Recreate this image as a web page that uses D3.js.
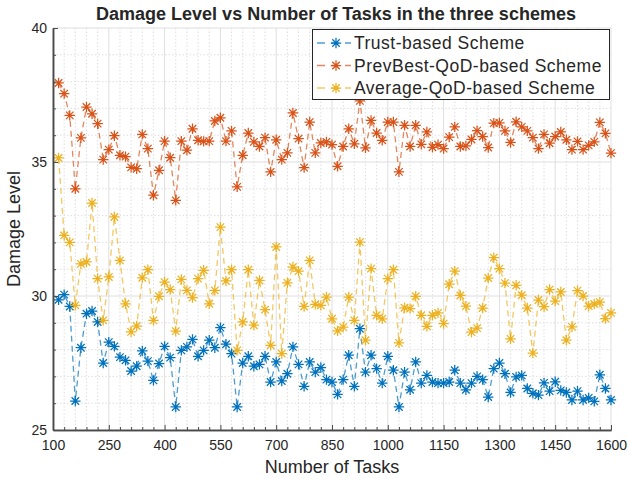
<!DOCTYPE html>
<html>
<head>
<meta charset="utf-8">
<script src="https://cdn.jsdelivr.net/npm/d3@7"></script>
<style>
  body { margin: 0; background: #fff; }
  svg { display: block; }
  text { font-family: "Liberation Sans", Arial, Helvetica, sans-serif; fill: #262626; }
</style>
</head>
<body>
<svg id="chart" width="628" height="479"></svg>
<script>
// Number of tasks at which each scheme was evaluated
const tasks = [
  115, 130, 145, 160, 175, 190, 205, 220, 235, 250,
  265, 280, 295, 310, 325, 340, 355, 370, 385, 400,
  415, 430, 445, 460, 475, 490, 505, 520, 535, 550,
  565, 580, 595, 610, 625, 640, 655, 670, 685, 700,
  715, 730, 745, 760, 775, 790, 805, 820, 835, 850,
  865, 880, 895, 910, 925, 940, 955, 970, 985, 1000,
  1015, 1030, 1045, 1060, 1075, 1090, 1105, 1120, 1135, 1150,
  1165, 1180, 1195, 1210, 1225, 1240, 1255, 1270, 1285, 1300,
  1315, 1330, 1345, 1360, 1375, 1390, 1405, 1420, 1435, 1450,
  1465, 1480, 1495, 1510, 1525, 1540, 1555, 1570, 1585, 1600
];

// Damage level, trust-based scheme
const trustBased = [
  29.86, 30.05, 29.61, 26.08, 28.07, 29.34, 29.44, 29.03, 27.50, 28.28,
  28.12, 27.72, 27.60, 27.20, 27.38, 27.95, 27.57, 26.85, 27.48, 28.12,
  27.70, 25.86, 27.97, 28.10, 28.38, 27.75, 27.97, 28.35, 28.07, 28.82,
  28.20, 27.85, 25.86, 27.50, 27.75, 27.38, 27.45, 27.75, 26.79, 27.54,
  26.83, 27.10, 28.10, 27.45, 26.63, 27.54, 27.16, 27.33, 26.88, 26.79,
  26.33, 26.88, 27.79, 26.63, 28.78, 27.16, 27.79, 27.29, 26.75, 27.75,
  27.23, 25.86, 27.16, 26.50, 27.54, 26.75, 27.04, 26.79, 26.75, 26.75,
  26.79, 27.23, 26.75, 26.50, 26.75, 27.00, 26.88, 26.23, 27.29, 27.50,
  27.10, 26.40, 26.98, 27.04, 26.55, 26.37, 26.30, 26.76, 26.45, 26.80,
  26.48, 26.40, 26.12, 26.45, 26.12, 26.20, 26.07, 27.06, 26.55, 26.12
];

// Damage level, previous-best-QoD scheme
const prevBestQoD = [
  37.95, 37.55, 36.74, 34.00, 35.90, 37.05, 36.80, 36.43, 35.09, 35.46,
  35.98, 35.25, 35.20, 34.80, 34.75, 36.03, 35.50, 33.76, 34.69, 35.78,
  35.16, 33.57, 35.78, 35.44, 36.24, 35.81, 35.77, 35.78, 36.53, 36.65,
  35.78, 36.16, 34.07, 35.25, 36.08, 35.75, 35.58, 35.91, 34.63, 35.83,
  35.09, 35.34, 36.83, 35.87, 34.79, 36.49, 35.34, 35.71, 35.75, 35.65,
  34.84, 35.58, 36.24, 35.68, 37.28, 35.53, 36.55, 36.08, 35.81, 36.49,
  36.49, 34.63, 36.37, 35.58, 36.37, 35.66, 36.12, 35.55, 35.65, 35.50,
  35.93, 36.31, 35.58, 35.60, 35.84, 36.17, 35.95, 35.54, 36.45, 36.46,
  36.16, 35.73, 36.50, 36.31, 36.16, 35.91, 35.50, 36.03, 35.70, 35.95,
  36.12, 35.83, 35.46, 35.77, 35.46, 35.62, 35.75, 36.48, 36.07, 35.33
];

// Damage level, average-QoD scheme
const averageQoD = [
  35.15, 32.26, 32.00, 29.65, 31.20, 31.27, 33.47, 30.65, 29.09, 30.71,
  32.95, 31.33, 29.71, 28.66, 28.88, 30.68, 30.98, 29.09, 29.99, 30.52,
  30.24, 28.69, 30.62, 30.21, 29.94, 30.65, 30.96, 29.71, 30.21, 32.57,
  30.56, 30.98, 27.97, 29.03, 30.98, 28.91, 30.58, 29.49, 28.16, 31.83,
  27.85, 30.49, 31.08, 30.93, 29.61, 31.33, 29.69, 29.65, 29.96, 29.15,
  28.70, 28.84, 29.96, 29.09, 32.01, 28.35, 31.02, 29.28, 29.15, 30.65,
  30.98, 28.25, 29.56, 29.53, 29.99, 29.28, 28.87, 29.28, 29.37, 28.97,
  30.44, 30.93, 30.02, 29.62, 28.65, 28.80, 29.55, 30.67, 31.43, 31.02,
  30.48, 28.40, 30.40, 30.03, 29.55, 27.87, 29.85, 29.60, 30.24, 29.81,
  30.15, 28.35, 28.85, 30.20, 30.00, 29.62, 29.70, 29.77, 29.16, 29.37
];

const xTicks = [100, 250, 400, 550, 700, 850, 1000, 1150, 1300, 1450, 1600];
const xMinorTicks = [130, 160, 190, 220, 280, 310, 340, 370, 430, 460, 490, 520,
  580, 610, 640, 670, 730, 760, 790, 820, 880, 910, 940, 970, 1030, 1060, 1090, 1120,
  1180, 1210, 1240, 1270, 1330, 1360, 1390, 1420, 1480, 1510, 1540, 1570];
const yTicks = [25, 30, 35, 40];
const yMinorTicks = [26, 27, 28, 29, 31, 32, 33, 34, 36, 37, 38, 39];

const seriesNames = ["Trust-based Scheme", "PrevBest-QoD-based Scheme", "Average-QoD-based Scheme"];
const seriesColors = ["#0072BD", "#D95319", "#EDB120"];
const seriesValues = [trustBased, prevBestQoD, averageQoD];

const titleText = "Damage Level vs Number of Tasks in the three schemes";
const xLabel = "Number of Tasks";
const yLabel = "Damage Level";

// ---- layout ----
const plot = { left: 53, right: 611, top: 28, bottom: 430 };

const svg = d3.select("#chart");
const x = d3.scaleLinear().domain([100, 1600]).range([plot.left, plot.right]);
const y = d3.scaleLinear().domain([25, 40]).range([plot.bottom, plot.top]);

// ---- grid ----
const grid = svg.append("g");
grid.selectAll("line.xminor").data(xMinorTicks).join("line")
  .attr("x1", d => x(d)).attr("x2", d => x(d))
  .attr("y1", plot.top).attr("y2", plot.bottom)
  .attr("stroke", "#d6d6d6").attr("stroke-width", 0.8).attr("stroke-dasharray", "1.5,2");
grid.selectAll("line.yminor").data(yMinorTicks).join("line")
  .attr("x1", plot.left).attr("x2", plot.right)
  .attr("y1", d => y(d)).attr("y2", d => y(d))
  .attr("stroke", "#d6d6d6").attr("stroke-width", 0.8).attr("stroke-dasharray", "1.5,2");
grid.selectAll("line.xmajor").data(xTicks).join("line")
  .attr("x1", d => x(d)).attr("x2", d => x(d))
  .attr("y1", plot.top).attr("y2", plot.bottom)
  .attr("stroke", "#dedede").attr("stroke-width", 1);
grid.selectAll("line.ymajor").data(yTicks).join("line")
  .attr("x1", plot.left).attr("x2", plot.right)
  .attr("y1", d => y(d)).attr("y2", d => y(d))
  .attr("stroke", "#dedede").attr("stroke-width", 1);

// ---- series ----
const asterisk = r => {
  const k = r * 0.72;
  return `M${-r},0H${r}M0,${-r}V${r}M${-k},${-k}L${k},${k}M${-k},${k}L${k},${-k}`;
};
const line = d3.line().x(d => x(d[0])).y(d => y(d[1]));

seriesValues.forEach((vals, i) => {
  const pts = tasks.map((t, j) => [t, vals[j]]);
  const g = svg.append("g");
  g.append("path").datum(pts)
    .attr("d", line)
    .attr("fill", "none")
    .attr("stroke", seriesColors[i])
    .attr("stroke-width", 1.3)
    .attr("stroke-opacity", 0.7)
    .attr("stroke-dasharray", "6,4");
  g.selectAll("path.mk").data(pts).join("path")
    .attr("class", "mk")
    .attr("transform", d => `translate(${x(d[0])},${y(d[1])})`)
    .attr("d", asterisk(5.2))
    .attr("fill", "none")
    .attr("stroke", seriesColors[i])
    .attr("stroke-width", 1.25);
});

// ---- axes ----
const axisColor = "#4a4a4a";
const xAxis = svg.append("g").attr("transform", `translate(0,${plot.bottom})`)
  .call(d3.axisBottom(x).tickValues(xTicks).tickSizeInner(-5).tickSizeOuter(0).tickPadding(10).tickFormat(d3.format("d")));
const xMinor = svg.append("g").attr("transform", `translate(0,${plot.bottom})`)
  .call(d3.axisBottom(x).tickValues(xMinorTicks).tickSizeInner(-3).tickSizeOuter(0).tickFormat(""));
const yAxis = svg.append("g").attr("transform", `translate(${plot.left},0)`)
  .call(d3.axisLeft(y).tickValues(yTicks).tickSizeInner(-5).tickSizeOuter(0).tickPadding(6).tickFormat(d3.format("d")));
const yMinor = svg.append("g").attr("transform", `translate(${plot.left},0)`)
  .call(d3.axisLeft(y).tickValues(yMinorTicks).tickSizeInner(-3).tickSizeOuter(0).tickFormat(""));

[xAxis, xMinor, yAxis, yMinor].forEach(a => {
  a.select(".domain").attr("stroke", axisColor).attr("stroke-width", 1.5);
  a.selectAll(".tick line").attr("stroke", axisColor).attr("stroke-width", 1);
  a.selectAll(".tick text").attr("font-size", 14).attr("fill", "#262626")
    .style("font-family", '"Liberation Sans", Arial, sans-serif');
});

// ---- labels ----
svg.append("text")
  .attr("x", 336).attr("y", 20)
  .attr("text-anchor", "middle")
  .attr("font-size", 18).attr("font-weight", "bold")
  .text(titleText);

svg.append("text")
  .attr("x", (plot.left + plot.right) / 2).attr("y", 473)
  .attr("text-anchor", "middle")
  .attr("font-size", 18)
  .text(xLabel);

svg.append("text")
  .attr("transform", `translate(20,${(plot.top + plot.bottom) / 2}) rotate(-90)`)
  .attr("text-anchor", "middle")
  .attr("font-size", 18)
  .text(yLabel);

// ---- legend ----
const legend = svg.append("g");
legend.append("rect")
  .attr("x", 312.5).attr("y", 29.5).attr("width", 297).attr("height", 70)
  .attr("fill", "#fff").attr("stroke", "#262626").attr("stroke-width", 1);
seriesNames.forEach((name, i) => {
  const ly = 43 + i * 22.5;
  legend.append("line")
    .attr("x1", 317).attr("x2", 351).attr("y1", ly).attr("y2", ly)
    .attr("stroke", seriesColors[i]).attr("stroke-width", 1.3)
    .attr("stroke-opacity", 0.7).attr("stroke-dasharray", "8,6");
  legend.append("path")
    .attr("transform", `translate(336,${ly})`)
    .attr("d", asterisk(5.2))
    .attr("fill", "none").attr("stroke", seriesColors[i]).attr("stroke-width", 1.25);
  legend.append("text")
    .attr("x", 354).attr("y", ly).attr("dy", "0.36em")
    .attr("font-size", 17.5)
    .attr("letter-spacing", 0.5)
    .text(name);
});
</script>
</body>
</html>
